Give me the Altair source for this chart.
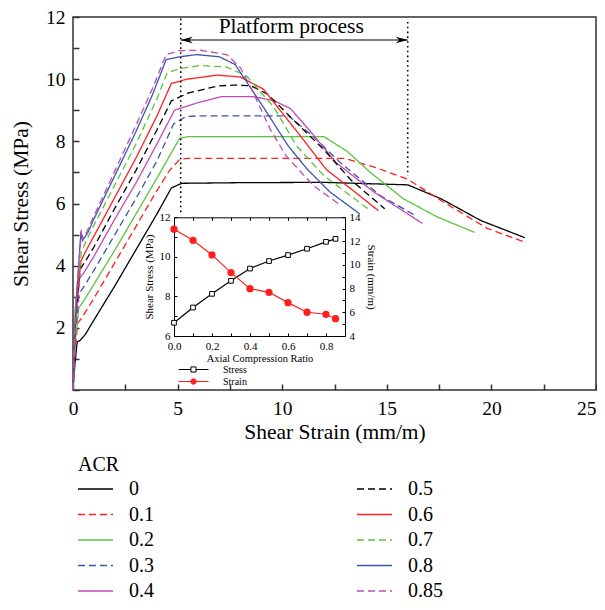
import altair as alt
import pandas as pd

FONT = "Liberation Serif"

# ---------------- main curves (shear strain mm/m, shear stress MPa) ----------------
acr_labels = ["0", "0.1", "0.2", "0.3", "0.4", "0.5", "0.6", "0.7", "0.8", "0.85"]

x_acr_0 = [0, 0.1, 0.2, 0.35, 0.6, 1.0, 2.0, 3.0, 4.0, 4.7, 5.2, 8.0, 12.0, 16.0, 17.6, 19.5, 21.6]
y_acr_0 = [0, 0.9, 1.55, 1.6, 1.8, 2.25, 3.35, 4.5, 5.65, 6.5, 6.65, 6.67, 6.68, 6.6, 6.15, 5.45, 4.9]

x_acr_01 = [0, 0.1, 0.22, 0.4, 1.0, 2.0, 3.0, 4.0, 4.6, 5.1, 5.5, 13.0, 14.5, 16.0, 17.7, 19.8, 21.5]
y_acr_01 = [0, 1.2, 2.15, 2.3, 2.95, 4.1, 5.25, 6.4, 7.05, 7.42, 7.45, 7.45, 7.15, 6.78, 6.05, 5.2, 4.78]

x_acr_02 = [0, 0.1, 0.28, 0.5, 1.0, 2.0, 3.0, 4.0, 5.1, 5.5, 12.0, 13.1, 14.3, 15.8, 17.4, 19.2]
y_acr_02 = [0, 1.5, 2.65, 2.85, 3.4, 4.5, 5.65, 6.8, 8.1, 8.15, 8.15, 7.68, 6.95, 6.15, 5.57, 5.07]

x_acr_03 = [0, 0.1, 0.3, 0.5, 1.0, 2.0, 3.0, 4.0, 4.8, 5.4, 6.0, 10.3, 11.5, 12.8, 14.7, 16.4]
y_acr_03 = [0, 1.8, 3.1, 3.3, 3.85, 5.0, 6.15, 7.35, 8.55, 8.8, 8.82, 8.82, 8.15, 7.3, 6.25, 5.6]

x_acr_04 = [0, 0.1, 0.32, 0.5, 1.0, 2.0, 3.0, 4.0, 4.85, 6.0, 7.1, 8.6, 9.6, 10.4, 11.3, 12.6, 14.4, 16.7]
y_acr_04 = [0, 2.0, 3.6, 3.75, 4.3, 5.5, 6.65, 7.9, 9.0, 9.25, 9.44, 9.44, 9.31, 9.05, 8.36, 7.3, 6.36, 5.36]

x_acr_05 = [0, 0.1, 0.35, 0.6, 1.0, 2.0, 3.0, 4.0, 4.7, 5.5, 6.9, 7.7, 8.5, 9.3, 10.7, 12.0, 13.25, 14.9]
y_acr_05 = [0, 2.2, 3.9, 4.15, 4.6, 5.85, 7.05, 8.35, 9.3, 9.55, 9.78, 9.81, 9.79, 9.52, 8.58, 7.73, 6.78, 5.83]

x_acr_06 = [0, 0.1, 0.38, 0.6, 1.0, 2.0, 3.0, 4.0, 4.7, 5.45, 6.9, 8.0, 9.1, 9.9, 10.9, 12.1, 13.4, 14.6]
y_acr_06 = [0, 2.4, 4.15, 4.45, 4.95, 6.2, 7.45, 8.8, 9.86, 10.0, 10.13, 10.07, 9.68, 9.0, 8.15, 7.1, 6.41, 5.77]

x_acr_07 = [0, 0.1, 0.4, 0.6, 1.0, 2.0, 3.0, 4.0, 4.5, 5.1, 6.1, 7.35, 8.3, 9.6, 10.7, 12.0, 14.2]
y_acr_07 = [0, 2.6, 4.45, 4.75, 5.3, 6.6, 7.9, 9.35, 10.2, 10.34, 10.44, 10.39, 10.1, 9.1, 7.84, 6.89, 5.78]

x_acr_08 = [0, 0.15, 0.38, 0.45, 0.7, 1.0, 2.0, 3.0, 3.8, 4.45, 5.1, 5.9, 7.0, 7.75, 9.1, 10.3, 11.2, 12.3, 13.7]
y_acr_08 = [0, 2.8, 5.1, 4.8, 5.05, 5.5, 6.9, 8.3, 9.5, 10.63, 10.72, 10.79, 10.72, 10.47, 9.1, 7.84, 7.1, 6.36, 5.67]

x_acr_085 = [0, 0.15, 0.4, 0.48, 0.7, 1.0, 2.0, 3.0, 3.8, 4.45, 5.1, 6.1, 7.35, 8.0, 8.5, 9.45, 10.2, 11.5, 12.8]
y_acr_085 = [0, 2.9, 5.15, 4.85, 5.15, 5.6, 7.05, 8.5, 9.7, 10.79, 10.92, 10.93, 10.79, 10.37, 9.73, 8.36, 7.52, 6.57, 5.94]

curve_x = [x_acr_0, x_acr_01, x_acr_02, x_acr_03, x_acr_04, x_acr_05, x_acr_06, x_acr_07, x_acr_08, x_acr_085]
curve_y = [y_acr_0, y_acr_01, y_acr_02, y_acr_03, y_acr_04, y_acr_05, y_acr_06, y_acr_07, y_acr_08, y_acr_085]

BLACK, RED, GREEN, BLUE, MAG = "#000000", "#ff1f1f", "#5cc43a", "#3b56a8", "#c24bb3"
color_range = [BLACK, RED, GREEN, BLUE, MAG, BLACK, RED, GREEN, BLUE, MAG]
SOLID, DASH = [1, 0], [7, 4]
dash_range = [SOLID, DASH, SOLID, DASH, SOLID, DASH, SOLID, DASH, SOLID, DASH]

x_ticks = [0, 2.5, 5, 7.5, 10, 12.5, 15, 17.5, 20, 22.5, 25]
y_ticks = [0, 1, 2, 3, 4, 5, 6, 7, 8, 9, 10, 11, 12]

# platform annotation
plat_x = [5.15, 16.0]
plat_top = [11.95, 11.84]
plat_bottom = [5.63, 6.89]
arrow_y = 11.26
plat_text = ["Platform process"]
plat_text_x = [10.43]
plat_text_y = [11.68]

# ---------------- inset ----------------
inset_acr = [0, 0.1, 0.2, 0.3, 0.4, 0.5, 0.6, 0.7, 0.8, 0.85]
inset_stress = [6.67, 7.44, 8.13, 8.79, 9.41, 9.79, 10.09, 10.41, 10.76, 10.91]
inset_strain = [13.0, 12.06, 10.83, 9.34, 7.99, 7.68, 6.81, 6.0, 5.83, 5.46]
inset_x_ticks = [0, 0.1, 0.2, 0.3, 0.4, 0.5, 0.6, 0.7, 0.8]
inset_x_labels = [0, 0.2, 0.4, 0.6, 0.8]
inset_yl_ticks = [6, 7, 8, 9, 10, 11, 12]
inset_yl_labels = [6, 8, 10, 12]
inset_yr_ticks = [4, 5, 6, 7, 8, 9, 10, 11, 12, 13, 14]
inset_yr_labels = [4, 6, 8, 10, 12, 14]

# ---------------- build tables ----------------
rows = []
for lab, xs, ys in zip(acr_labels, curve_x, curve_y):
    for i, (a, b) in enumerate(zip(xs, ys)):
        rows.append({"acr": lab, "x": a, "y": b, "i": i})
df = pd.DataFrame(rows)

plat_df = pd.DataFrame({"x": plat_x, "top": plat_top, "bottom": plat_bottom})
arrow_df = pd.DataFrame({"x1": [plat_x[0]], "x2": [plat_x[1]], "y": [arrow_y]})
head_df = pd.DataFrame({"x": plat_x, "y": [arrow_y, arrow_y], "ang": [180, 0]})
text_df = pd.DataFrame({"x": plat_text_x, "y": plat_text_y, "t": plat_text})
inset_df = pd.DataFrame({"acr": inset_acr, "stress": inset_stress, "strain": inset_strain,
                         "s1": ["Stress"] * len(inset_acr), "s2": ["Strain"] * len(inset_acr)})

TOP = 9
W, H = 523, 373
IN_BOT, IN_TOP = 319, 200.3
XM = alt.Scale(domain=[0, 25], nice=False, zero=False)
YM = alt.Scale(domain=[0, 12], nice=False, zero=False)
XI = alt.Scale(domain=[0, 0.9], range=[101, 272], nice=False, zero=False)
YLI = alt.Scale(domain=[6, 12], range=[IN_BOT, IN_TOP], nice=False, zero=False)
YRI = alt.Scale(domain=[4, 14], range=[IN_BOT, IN_TOP], nice=False, zero=False)
AX = dict(labelFont=FONT, titleFont=FONT, labelColor="black", titleColor="black",
          grid=False, titleFontWeight="normal", labelFlush=False, labelOverlap=False)
TK = "#333333"

LEG_PATH = "M-1.43,0L3.57,0"
legend_main = alt.Legend(orient="none", legendX=5, legendY=438, columns=2, columnPadding=200,
                         rowPadding=5.5, symbolType=LEG_PATH, symbolSize=196, symbolStrokeWidth=1.3,
                         labelFont=FONT, labelFontSize=20, titleFont=FONT, titleFontSize=20,
                         titleFontWeight="normal", labelOffset=31, title="ACR", padding=0,
                         titlePadding=4, labelColor="black", titleColor="black")

curves = alt.Chart(df).mark_line(strokeWidth=1.3).encode(
    x=alt.X("x:Q", scale=XM, axis=alt.Axis(
        orient="bottom", values=x_ticks,
        labelExpr="datum.value % 5 == 0 ? format(datum.value, 'd') : ''",
        labelAlign={"condition": {"test": "datum.value == 25", "value": "right"}, "value": "center"},
        ticks=False, tickSize=0, domain=False, labelFontSize=19.5, titleFontSize=21.5,
        labelPadding=9, titlePadding=4, title="Shear Strain (mm/m)", **AX)),
    y=alt.Y("y:Q", scale=YM, axis=alt.Axis(
        orient="left", values=y_ticks,
        labelExpr="datum.value % 2 == 0 && datum.value > 0 ? format(datum.value, 'd') : ''",
        ticks=False, tickSize=0, domain=False, labelFontSize=19.5, titleFontSize=21.5,
        labelPadding=8, titlePadding=13, title="Shear Stress (MPa)", **AX)),
    color=alt.Color("acr:N", scale=alt.Scale(domain=acr_labels, range=color_range), legend=legend_main),
    strokeDash=alt.StrokeDash("acr:N", scale=alt.Scale(domain=acr_labels, range=dash_range), legend=legend_main),
    order="i:Q",
)

main_ticks = alt.Chart(df).mark_point(opacity=0).encode(
    x=alt.X("x:Q", scale=XM, axis=alt.Axis(orient="top", offset=-H, values=x_ticks, labels=False,
                                           domain=False, tickSize=6, tickWidth=1.5, tickColor=TK,
                                           title=None, grid=False)),
    y=alt.Y("y:Q", scale=YM, axis=alt.Axis(orient="right", offset=-W, values=y_ticks, labels=False,
                                           domain=False, tickSize=6, tickWidth=1.5, tickColor=TK,
                                           title=None, grid=False)),
)

plat_rules = alt.Chart(plat_df).mark_rule(strokeDash=[1.6, 3.2], strokeWidth=1.6, color="black").encode(
    x=alt.X("x:Q", scale=XM, axis=None),
    y=alt.Y("top:Q", scale=YM, axis=None),
    y2="bottom:Q",
)

arrow_line = alt.Chart(arrow_df).mark_rule(strokeWidth=1.2, color="black").encode(
    x=alt.X("x1:Q", scale=XM, axis=None),
    x2="x2:Q",
    y=alt.Y("y:Q", scale=YM, axis=None),
)

arrow_heads = alt.Chart(head_df).mark_point(
    shape="M0,0L-2,-0.55L-1.4,0L-2,0.55Z", filled=True, color="black", size=144, opacity=1
).encode(
    x=alt.X("x:Q", scale=XM, axis=None),
    y=alt.Y("y:Q", scale=YM, axis=None),
    angle=alt.Angle("ang:Q", scale=None),
)

plat_label = alt.Chart(text_df).mark_text(font=FONT, fontSize=21.5, color="black").encode(
    x=alt.X("x:Q", scale=XM, axis=None),
    y=alt.Y("y:Q", scale=YM, axis=None),
    text="t:N",
)

# ---------------- inset layers ----------------
SQ_PATH = "M-1,0L-0.17,0M0.17,0L1,0M-0.17,-0.17L0.17,-0.17L0.17,0.17L-0.17,0.17Z"
CI_PATH = "M-1,0L1,0M0.18,0A0.18,0.18,0,1,1,-0.18,0A0.18,0.18,0,1,1,0.18,0Z"

stress_line = alt.Chart(inset_df).mark_line(strokeWidth=1.2).encode(
    x=alt.X("acr:Q", scale=XI, axis=alt.Axis(
        orient="bottom", offset=IN_BOT - H, values=inset_x_labels, format=".1f", ticks=False, tickSize=0,
        domain=True, domainColor="black", domainWidth=1, labelFontSize=11, titleFontSize=10.5,
        labelPadding=4, titlePadding=2, title="Axial Compression Ratio", **AX)),
    y=alt.Y("stress:Q", scale=YLI, axis=alt.Axis(
        orient="left", offset=-101, values=inset_yl_labels, format="d", ticks=False, tickSize=0,
        domain=True, domainColor="black", domainWidth=1, labelFontSize=11, titleFontSize=11,
        labelPadding=4, titlePadding=5, title="Shear Stress (MPa)", **AX)),
    stroke=alt.Stroke("s1:N", scale=alt.Scale(domain=["Stress"], range=["black"]), legend=alt.Legend(
        orient="none", legendX=105, legendY=337, title=None, symbolType=SQ_PATH, symbolSize=900,
        symbolStrokeWidth=1, symbolFillColor="white", labelFont=FONT, labelFontSize=10,
        labelColor="black", labelOffset=14, padding=0)),
)

stress_pts = alt.Chart(inset_df).mark_point(shape="square", size=22, filled=True, fill="white",
                                             stroke="black", strokeWidth=1, opacity=1).encode(
    x=alt.X("acr:Q", scale=XI, axis=None),
    y=alt.Y("stress:Q", scale=YLI, axis=None),
)

strain_line = alt.Chart(inset_df).mark_line(strokeWidth=1.2).encode(
    x=alt.X("acr:Q", scale=XI, axis=None),
    y=alt.Y("strain:Q", scale=YRI, axis=alt.Axis(
        orient="right", offset=272 - W, values=inset_yr_labels, format="d", ticks=False, tickSize=0,
        domain=True, domainColor="black", domainWidth=1, labelFontSize=11, titleFontSize=11,
        labelPadding=4, titlePadding=5, title="Strain (mm/m)", **AX)),
    stroke=alt.Stroke("s2:N", scale=alt.Scale(domain=["Strain"], range=[RED]), legend=alt.Legend(
        orient="none", legendX=105, legendY=349, title=None, symbolType=CI_PATH, symbolSize=900,
        symbolStrokeWidth=1, symbolFillColor=RED, labelFont=FONT, labelFontSize=10,
        labelColor="black", labelOffset=14, padding=0)),
)

strain_pts = alt.Chart(inset_df).mark_point(shape="circle", size=28, filled=True, fill=RED,
                                             stroke=RED, opacity=1).encode(
    x=alt.X("acr:Q", scale=XI, axis=None),
    y=alt.Y("strain:Q", scale=YRI, axis=None),
)

inset_ticks_a = alt.Chart(inset_df).mark_point(opacity=0).encode(
    x=alt.X("acr:Q", scale=XI, axis=alt.Axis(orient="top", offset=-IN_BOT, values=inset_x_ticks,
                                             labels=False, domain=False, tickSize=3, tickWidth=1,
                                             tickColor="black", title=None, grid=False)),
    y=alt.Y("stress:Q", scale=YLI, axis=alt.Axis(orient="right", offset=101 - W, values=inset_yl_ticks,
                                                 labels=False, domain=False, tickSize=3, tickWidth=1,
                                                 tickColor="black", title=None, grid=False)),
)

inset_ticks_b = alt.Chart(inset_df).mark_point(opacity=0).encode(
    x=alt.X("acr:Q", scale=XI, axis=alt.Axis(orient="bottom", offset=IN_TOP - H, values=inset_x_ticks,
                                             labels=False, domain=True, domainColor="black", domainWidth=1,
                                             tickSize=3, tickWidth=1, tickColor="black", title=None,
                                             grid=False)),
    y=alt.Y("strain:Q", scale=YRI, axis=alt.Axis(orient="left", offset=-272, values=inset_yr_ticks,
                                                 labels=False, domain=False, tickSize=3, tickWidth=1,
                                                 tickColor="black", title=None, grid=False)),
)

chart = alt.layer(
    curves, main_ticks, plat_rules, arrow_line, arrow_heads, plat_label,
    stress_line, stress_pts, strain_line, strain_pts, inset_ticks_a, inset_ticks_b,
).resolve_scale(
    x="independent", y="independent", color="independent", strokeDash="independent", stroke="independent"
).properties(
    width=W, height=H,
    padding={"left": 65, "top": TOP, "right": 1, "bottom": 212},
    autosize=alt.AutoSizeParams(type="none"),
).configure_view(stroke=TK, strokeWidth=1.5)

chart.save("out.html", embed_options={"renderer": "svg", "actions": False})
